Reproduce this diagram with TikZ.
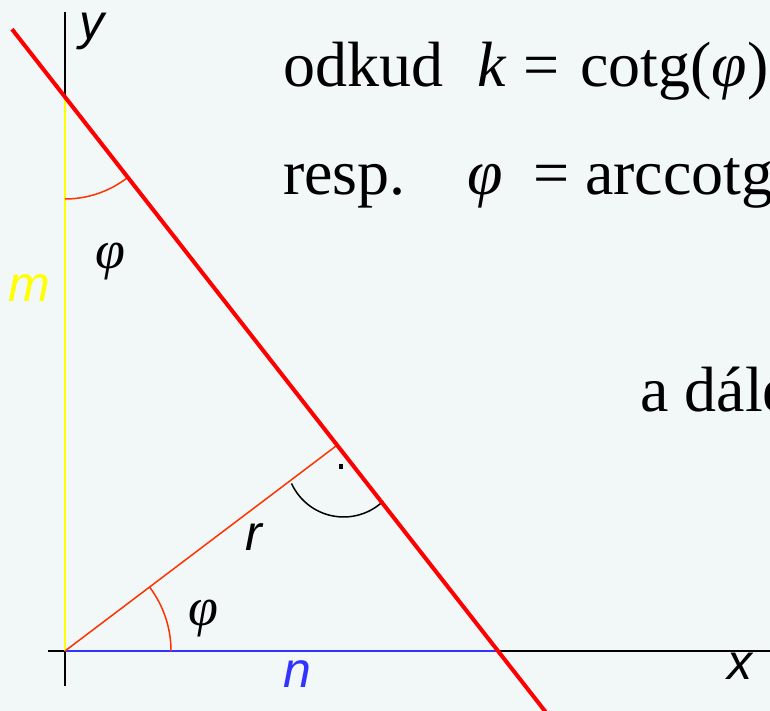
\documentclass[tikz,border=0pt]{standalone}
\usepackage{fontspec}
\setmainfont{Liberation Serif}
\newfontfamily\labelsf{Liberation Sans}
\usetikzlibrary{calc}
\definecolor{bgpaper}{RGB}{242,247,247}
\definecolor{linered}{RGB}{255,0,0}
\definecolor{anglered}{RGB}{255,51,0}
\definecolor{segyellow}{RGB}{255,255,0}
\definecolor{segblue}{RGB}{51,51,255}
\newcommand{\phisym}{\textit{φ}}
\tikzset{
  bigtext/.style={font=\fontsize{64}{64}\selectfont, anchor=base west, inner sep=0pt},
  axislabel/.style={font=\labelsf\itshape\fontsize{50}{50}\selectfont, anchor=base, inner sep=0pt},
  anglelabel/.style={font=\fontsize{54}{54}\selectfont, inner sep=0pt}
}

\begin{document}
\begin{tikzpicture}[x=1pt, y=1pt]
    \useasboundingbox (0,0) rectangle (770,711);
    \fill[bgpaper] (0,0) rectangle (770,711);
    \clip (0,0) rectangle (770,711);
    \coordinate (O) at (65,60);
    \coordinate (Yi) at (65,614);
    \coordinate (Xi) at (498,60);
    \coordinate (yTop) at (65,699);
    \coordinate (yBot) at (65,25);
    \coordinate (xLeft) at (48,60);
    \coordinate (xRight) at (770,60);
    \coordinate (F) at ($(Yi)!0.6285!(Xi)$);
    \coordinate (Fc) at ($(F)+(6.5,-14.5)$);
    \draw[line width=2pt] (yTop) -- (yBot);
    \draw[line width=2pt] (xLeft) -- (xRight);
    \draw[segyellow, line width=2pt] (Yi) -- (O);
    \draw[segblue, line width=2pt] (O) -- (Xi);
    \draw[anglered, line width=1.5pt] (O) -- (F);
    \draw[anglered, line width=1.5pt] (Yi) ++(-90:102) arc[start angle=-90, end angle=-52, radius=102];
    \draw[anglered, line width=1.5pt] (O) ++(0:106) arc[start angle=0, end angle=37, radius=106];
    \draw[line width=1.5pt] (Fc) ++(204.5:57.3) arc[start angle=204.5, end angle=313.6, radius=57.3];
    \fill (339,241.5) rectangle (343,246.5);
    \draw[linered, line width=4pt] ($(Yi)!-0.1224!(Xi)$) -- ($(Yi)!1.12!(Xi)$);
    \node[axislabel] (ylab) at (92,671) {y};
    \node[axislabel, segyellow] (mlab) at (29,409) {m};
    \node[axislabel] (rlab) at (253.5,160) {r};
    \node[axislabel, segblue] (nlab) at (297.5,23) {n};
    \node[axislabel] (xlab) at (740,31) {x};
    \node[anglelabel] (phitop) at (110,449.5) {\phisym};
    \node[anglelabel] (phibot) at (203,92.5) {\phisym};
    \node[bigtext] (odkud) at (283,624) {odkud};
    \node[bigtext] (kval) at (477,624) {\textit{k}};
    \node[bigtext] (eqa) at (523,624) {=};
    \node[bigtext] (cotg) at (580,624) {cotg(\phisym)};
    \node[bigtext] (resp) at (283,516) {resp.};
    \node[bigtext] (phival) at (467,516) {\phisym};
    \node[bigtext] (eqb) at (533,516) {=};
    \node[bigtext] (arccotg) at (585,516) {arccotg};
    \node[bigtext] (dale) at (640,299) {a dále};
\end{tikzpicture}
\end{document}
